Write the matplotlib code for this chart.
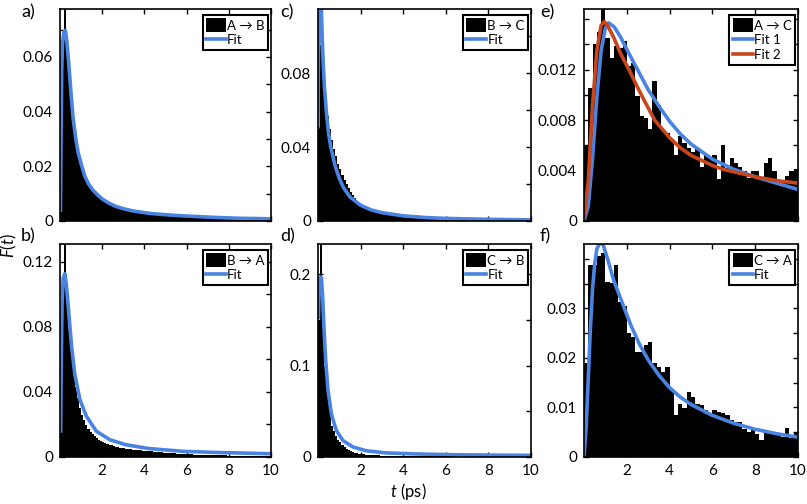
import numpy as np
import matplotlib
matplotlib.use('Agg')
import matplotlib.pyplot as plt

plt.rcParams['font.family'] = ['Lato', 'DejaVu Sans']
plt.rcParams['mathtext.fontset'] = 'custom'
plt.rcParams['mathtext.rm'] = 'Lato'
plt.rcParams['mathtext.it'] = 'Lato:italic'

BLUE = '#4a84e2'
RED = '#c9461c'

# bin edges (fine bins for a-d, coarse for e-f)
edges_fine = np.linspace(0, 10, 101)
edges_coarse = np.linspace(0, 10, 51)

# ---- a) A -> B
hist_a = [0.010, 0.060, 0.090, 0.063, 0.053, 0.044, 0.036, 0.030, 0.025, 0.0215,
          0.019, 0.0167, 0.015, 0.0136, 0.0123, 0.0112, 0.0103, 0.0095, 0.0088, 0.0081,
          0.0076, 0.0071, 0.0066, 0.0062, 0.0058, 0.0055, 0.0052, 0.0049, 0.0047, 0.0045,
          0.0042, 0.0040, 0.0038, 0.0036, 0.0035, 0.0033, 0.0032, 0.0031, 0.0030, 0.0029,
          0.0028, 0.0027, 0.0031, 0.0026, 0.0025, 0.0024, 0.0023, 0.0023, 0.0022, 0.0021,
          0.0021, 0.0020, 0.0020, 0.0019, 0.0019, 0.0018, 0.0022, 0.0018, 0.0017, 0.0017,
          0.0016, 0.0016, 0.0015, 0.0015, 0.0015, 0.0014, 0.0014, 0.0014, 0.0013, 0.0013,
          0.0013, 0.0012, 0.0012, 0.0012, 0.0016, 0.0011, 0.0011, 0.0011, 0.0011, 0.0010,
          0.0010, 0.0010, 0.0010, 0.0009, 0.0009, 0.0009, 0.0009, 0.0009, 0.0008, 0.0008,
          0.0008, 0.0008, 0.0008, 0.0008, 0.0007, 0.0007, 0.0007, 0.0007, 0.0007, 0.0007]
fit_a_t = [0.02, 0.05, 0.08, 0.12, 0.18, 0.25, 0.32, 0.40, 0.47, 0.55, 0.63, 0.75, 0.86, 1.0,
           1.17, 1.35, 1.56, 1.8, 2.03, 2.3, 2.66, 3.0, 3.44, 4.23, 5.0, 5.79, 7.36, 8.5, 10.0]
fit_a = [0.004, 0.030, 0.055, 0.065, 0.069, 0.0697, 0.066, 0.059, 0.052, 0.044, 0.037, 0.030,
         0.025, 0.021, 0.0165, 0.0136, 0.0113, 0.0094, 0.0079, 0.0066, 0.0053, 0.0045, 0.0037,
         0.0028, 0.0023, 0.0019, 0.0013, 0.0010, 0.0008]

# ---- b) B -> A
hist_b = [0.016, 0.110, 0.140, 0.100, 0.080, 0.064, 0.052, 0.043, 0.036, 0.030,
          0.026, 0.0225, 0.0195, 0.0172, 0.0155, 0.0140, 0.0127, 0.0116, 0.0106, 0.0098,
          0.0091, 0.0085, 0.0080, 0.0075, 0.0071, 0.0067, 0.0063, 0.0060, 0.0057, 0.0055,
          0.0053, 0.0051, 0.0049, 0.0047, 0.0046, 0.0044, 0.0043, 0.0041, 0.0040, 0.0039,
          0.0037, 0.0036, 0.0035, 0.0034, 0.0033, 0.0032, 0.0031, 0.0030, 0.0029, 0.0027,
          0.0026, 0.0025, 0.0024, 0.0023, 0.0022, 0.0021, 0.0020, 0.0019, 0.0019, 0.0018,
          0.0017, 0.0016, 0.0016, 0.0015, 0.0015, 0.0014, 0.0014, 0.0013, 0.0013, 0.0012,
          0.0012, 0.0012, 0.0011, 0.0011, 0.0011, 0.0010, 0.0010, 0.0010, 0.0010, 0.0009,
          0.0009, 0.0009, 0.0009, 0.0009, 0.0009, 0.0008, 0.0008, 0.0008, 0.0008, 0.0008,
          0.0008, 0.0008, 0.0007, 0.0007, 0.0007, 0.0007, 0.0007, 0.0007, 0.0007, 0.0007]
fit_b_t = [0.03, 0.06, 0.10, 0.15, 0.23, 0.30, 0.39, 0.47, 0.55, 0.70, 0.94, 1.25, 1.72,
           2.35, 3.1, 4.2, 5.8, 7.4, 10.0]
fit_b = [0.016, 0.060, 0.095, 0.110, 0.1127, 0.106, 0.093, 0.080, 0.068, 0.051, 0.0354,
         0.0251, 0.0159, 0.0107, 0.0076, 0.0052, 0.0035, 0.0028, 0.0020]

# ---- c) B -> C
hist_c = [0.051, 0.095, 0.080, 0.066, 0.057, 0.050, 0.044, 0.039, 0.035, 0.031,
          0.028, 0.025, 0.022, 0.020, 0.018, 0.0155, 0.0140, 0.0125, 0.0110, 0.0100,
          0.0090, 0.0082, 0.0075, 0.0068, 0.0062, 0.0057, 0.0052, 0.0048, 0.0044, 0.0041,
          0.0038, 0.0036, 0.0034, 0.0032, 0.0030, 0.0029, 0.0027, 0.0026, 0.0025, 0.0024,
          0.0023, 0.0022, 0.0021, 0.0020, 0.0019, 0.0018, 0.0018, 0.0017, 0.0016, 0.0016,
          0.0015, 0.0015, 0.0014, 0.0014, 0.0013, 0.0013, 0.0012, 0.0012, 0.0012, 0.0011,
          0.0011, 0.0011, 0.0010, 0.0010, 0.0010, 0.0010, 0.0009, 0.0009, 0.0009, 0.0009,
          0.0008, 0.0008, 0.0008, 0.0008, 0.0008, 0.0007, 0.0007, 0.0007, 0.0007, 0.0007,
          0.0007, 0.0006, 0.0006, 0.0006, 0.0006, 0.0006, 0.0006, 0.0006, 0.0005, 0.0005,
          0.0005, 0.0005, 0.0005, 0.0005, 0.0005, 0.0005, 0.0005, 0.0004, 0.0004, 0.0004]
fit_c_t = [0.0, 0.02, 0.08, 0.15, 0.20, 0.25, 0.30, 0.40, 0.50, 0.60, 0.80, 1.0, 1.2, 1.5,
           2.0, 2.5, 3.0, 4.0, 5.0, 6.0, 8.0, 10.0]
fit_c = [0.051, 0.090, 0.130, 0.118, 0.098, 0.084, 0.073, 0.058, 0.047, 0.040, 0.030, 0.023,
         0.018, 0.013, 0.0085, 0.0060, 0.0045, 0.0028, 0.0019, 0.0014, 0.0009, 0.0006]

# ---- d) C -> B
hist_d = [0.150, 0.250, 0.150, 0.100, 0.068, 0.050, 0.034, 0.028, 0.023, 0.019,
          0.016, 0.0128, 0.0105, 0.0088, 0.0075, 0.0064, 0.0055, 0.0048, 0.0042, 0.0037,
          0.0033, 0.0030, 0.0027, 0.0025, 0.0023, 0.0021, 0.0019, 0.0018, 0.0017, 0.0016,
          0.0015, 0.0014, 0.0013, 0.0013, 0.0012, 0.0012, 0.0011, 0.0011, 0.0010, 0.0010,
          0.0010, 0.0009, 0.0009, 0.0009, 0.0009, 0.0008, 0.0008, 0.0008, 0.0008, 0.0008,
          0.0007, 0.0007, 0.0007, 0.0007, 0.0007, 0.0007, 0.0006, 0.0006, 0.0006, 0.0006,
          0.0006, 0.0006, 0.0006, 0.0006, 0.0005, 0.0005, 0.0005, 0.0005, 0.0005, 0.0005,
          0.0005, 0.0005, 0.0005, 0.0005, 0.0004, 0.0004, 0.0004, 0.0004, 0.0004, 0.0004,
          0.0004, 0.0004, 0.0004, 0.0004, 0.0004, 0.0004, 0.0004, 0.0004, 0.0004, 0.0004,
          0.0004, 0.0004, 0.0004, 0.0004, 0.0004, 0.0004, 0.0004, 0.0004, 0.0004, 0.0004]
fit_d_t = [0.02, 0.05, 0.10, 0.16, 0.22, 0.27, 0.36, 0.47, 0.63, 0.86, 1.17, 1.64, 2.27,
           3.2, 4.5, 6.3, 8.0, 10.0]
fit_d = [0.153, 0.185, 0.197, 0.196, 0.175, 0.146, 0.106, 0.073, 0.047, 0.029, 0.018, 0.011,
         0.0068, 0.0045, 0.0034, 0.0025, 0.0021, 0.0018]

# ---- e) A -> C
hist_e = [0.0060, 0.0105, 0.0140, 0.0150, 0.0175, 0.0145, 0.0129, 0.0139, 0.0137, 0.0143,
          0.0123, 0.0125, 0.0099, 0.0083, 0.0082, 0.0073, 0.0111, 0.0092, 0.0072, 0.0070,
          0.0065, 0.0052, 0.0067, 0.0062, 0.0058, 0.0055, 0.0058, 0.0043, 0.0053, 0.0050,
          0.0052, 0.0033, 0.0060, 0.0042, 0.0050, 0.0046, 0.0043, 0.0040, 0.0034, 0.0040,
          0.0040, 0.0035, 0.0046, 0.0050, 0.0040, 0.0031, 0.0031, 0.0036, 0.0040, 0.0041]
fit1_e_t = [0.0, 0.2, 0.4, 0.6, 0.8, 1.0, 1.15, 1.4, 1.7, 2.0, 2.5, 3.0, 3.5, 4.0, 4.5, 5.0,
            6.0, 7.0, 8.0, 9.0, 10.0]
fit1_e = [0.0, 0.0012, 0.0050, 0.0098, 0.0135, 0.0153, 0.0157, 0.0154, 0.0146, 0.0136, 0.0120,
          0.0104, 0.0091, 0.0079, 0.0069, 0.0061, 0.0049, 0.0041, 0.0035, 0.0030, 0.0025]
fit2_e_t = [0.0, 0.2, 0.4, 0.6, 0.8, 0.95, 1.1, 1.4, 1.7, 2.1, 2.5, 2.8, 3.3, 4.0, 4.5, 5.0,
            6.0, 6.5, 7.0, 8.0, 9.0, 10.0]
fit2_e = [0.0, 0.0032, 0.0092, 0.0135, 0.0155, 0.0158, 0.0155, 0.0145, 0.0133, 0.0120, 0.0106,
          0.0096, 0.0080, 0.0066, 0.0058, 0.0052, 0.0044, 0.0041, 0.0039, 0.0035, 0.0032, 0.0030]

# ---- f) C -> A
hist_f = [0.0189, 0.0388, 0.0388, 0.0405, 0.0412, 0.0354, 0.0351, 0.0388, 0.0313, 0.0305,
          0.0250, 0.0243, 0.0212, 0.0212, 0.0226, 0.0233, 0.0189, 0.0182, 0.0172, 0.0182,
          0.0135, 0.0084, 0.0108, 0.0098, 0.0132, 0.0122, 0.0108, 0.0105, 0.0094, 0.0088,
          0.0094, 0.0091, 0.0088, 0.0085, 0.0074, 0.0071, 0.0071, 0.0057, 0.0051, 0.0054,
          0.0047, 0.0034, 0.0052, 0.0050, 0.0047, 0.0044, 0.0040, 0.0058, 0.0038, 0.0051]
fit_f_t = [0.0, 0.1, 0.2, 0.3, 0.4, 0.5, 0.6, 0.75, 0.9, 1.1, 1.4, 1.8, 2.2, 2.6, 3.0, 3.5,
           4.0, 4.5, 5.0, 6.0, 7.0, 8.0, 9.0, 10.0]
fit_f = [0.0, 0.006, 0.016, 0.026, 0.034, 0.039, 0.042, 0.0433, 0.0428, 0.040, 0.0355, 0.0310,
         0.0265, 0.0227, 0.0196, 0.0165, 0.0140, 0.0121, 0.0106, 0.0084, 0.0068, 0.0056, 0.0047,
         0.0040]

# y ticks: all tick marks, labels only on some
yt_a = [0, 0.01, 0.02, 0.03, 0.04, 0.05, 0.06, 0.07]
yl_a = ['0', '', '0.02', '', '0.04', '', '0.06', '']
yt_b = [0, 0.02, 0.04, 0.06, 0.08, 0.10, 0.12]
yl_b = ['0', '', '0.04', '', '0.08', '', '0.12']
yt_c = [0, 0.02, 0.04, 0.06, 0.08, 0.10]
yl_c = ['0', '', '0.04', '', '0.08', '']
yt_d = [0, 0.05, 0.1, 0.15, 0.2]
yl_d = ['0', '', '0.1', '', '0.2']
yt_e = [0, 0.002, 0.004, 0.006, 0.008, 0.010, 0.012, 0.014, 0.016]
yl_e = ['0', '', '0.004', '', '0.008', '', '0.012', '', '']
yt_f = [0, 0.005, 0.01, 0.015, 0.02, 0.025, 0.03, 0.035, 0.04]
yl_f = ['0', '', '0.01', '', '0.02', '', '0.03', '', '']
xt = [2, 4, 6, 8, 10]

W, H = 807, 504
fig = plt.figure(figsize=(W / 100, H / 100), dpi=100)


def make_ax(x0, x1, y0, y1):
    return fig.add_axes([x0 / W, 1 - y1 / H, (x1 - x0) / W, (y1 - y0) / H])


def style(ax, ymax, yt, yl, xlabels):
    ax.set_xlim(0, 10)
    ax.set_ylim(0, ymax)
    ax.set_xticks(xt)
    if xlabels:
        ax.set_xticklabels([str(v) for v in xt])
    else:
        ax.set_xticklabels([])
    ax.set_yticks(yt)
    ax.set_yticklabels(yl)
    ax.tick_params(direction='in', top=True, right=True, length=3.5, width=1,
                   labelsize=11, pad=5)
    for s in ax.spines.values():
        s.set_linewidth(1.2)


def legend(ax, labels, w_px, h_px):
    leg = ax.legend(labels, loc='upper right', bbox_to_anchor=(1 - 3 / w_px, 1 - 6 / h_px),
                    borderaxespad=0, fontsize=9.5, handlelength=1.5, handleheight=1.2,
                    handletextpad=0.1, borderpad=0.25, labelspacing=0.1,
                    fancybox=False, framealpha=1, edgecolor='black')
    leg.get_frame().set_linewidth(1.5)
    return leg


panels = [
    # (x0, x1, y0, y1, edges, hist, curves, ymax, yt, yl, xlabels, legend labels)
    (60, 271, 9, 221, edges_fine, hist_a, [(fit_a_t, fit_a, BLUE)], 0.0775, yt_a, yl_a, False,
     ['A \u2192 B', 'Fit']),
    (60, 271, 244, 457, edges_fine, hist_b, [(fit_b_t, fit_b, BLUE)], 0.131, yt_b, yl_b, True,
     ['B \u2192 A', 'Fit']),
    (318, 531, 9, 221, edges_fine, hist_c, [(fit_c_t, fit_c, BLUE)], 0.1146, yt_c, yl_c, False,
     ['B \u2192 C', 'Fit']),
    (318, 531, 244, 457, edges_fine, hist_d, [(fit_d_t, fit_d, BLUE)], 0.233, yt_d, yl_d, True,
     ['C \u2192 B', 'Fit']),
    (584, 798, 9, 221, edges_coarse, hist_e, [(fit1_e_t, fit1_e, BLUE), (fit2_e_t, fit2_e, RED)],
     0.0168, yt_e, yl_e, False, ['A \u2192 C', 'Fit 1', 'Fit 2']),
    (584, 798, 244, 457, edges_coarse, hist_f, [(fit_f_t, fit_f, BLUE)], 0.043, yt_f, yl_f, True,
     ['C \u2192 A', 'Fit']),
]

for x0, x1, y0, y1, edges, hist, curves, ymax, yt, yl, xlab, labels in panels:
    ax = make_ax(x0, x1, y0, y1)
    ax.stairs(hist, edges, fill=True, color='black', linewidth=0)
    for tt, ff, col in curves:
        ax.plot(tt, ff, color=col, linewidth=2.6, solid_joinstyle='round')
    style(ax, ymax, yt, yl, xlab)
    legend(ax, labels, x1 - x0, y1 - y0)

# panel letters
for lab, px, py in [('a)', 21, 4), ('b)', 21, 228), ('c)', 280, 4), ('d)', 280, 228),
                    ('e)', 540, 4), ('f)', 540, 228)]:
    fig.text(px / W, 1 - py / H, lab, fontsize=13, va='top', ha='left')

fig.text(9 / W, 1 - 246 / H, r'$F(t)$', rotation=90, fontsize=12, ha='center', va='center')
fig.text(408 / W, 1 - 491 / H, r'$t$ (ps)', fontsize=12, ha='center', va='center')

fig.savefig('out.png', dpi=100)
